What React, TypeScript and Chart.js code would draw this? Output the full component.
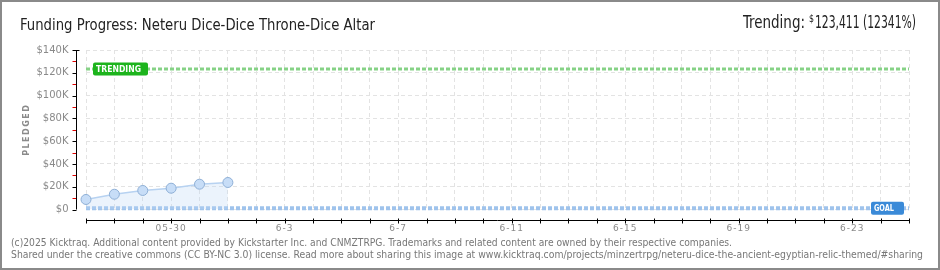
import { useEffect, useRef } from 'react';
import { Chart, registerables } from 'chart.js';

Chart.register(...registerables);

const TITLE = 'Funding Progress: Neteru Dice-Dice Throne-Dice Altar';
const TRENDING_LABEL = 'Trending:';
const TRENDING_CURRENCY = '$';
const TRENDING_AMOUNT = '123,411 (12341%)';
const FOOTER_1 = '(c)2025 Kicktraq. Additional content provided by Kickstarter Inc. and CNMZTRPG. Trademarks and related content are owned by their respective companies.';
const FOOTER_2 = 'Shared under the creative commons (CC BY-NC 3.0) license. Read more about sharing this image at www.kicktraq.com/projects/minzertrpg/neteru-dice-the-ancient-egyptian-relic-themed/#sharing';
const Y_TITLE = 'PLEDGED';

const dates = [
  '05-27', '05-28', '05-29', '05-30', '05-31', '06-01', '06-02', '06-03', '06-04', '06-05',
  '06-06', '06-07', '06-08', '06-09', '06-10', '06-11', '06-12', '06-13', '06-14', '06-15',
  '06-16', '06-17', '06-18', '06-19', '06-20', '06-21', '06-22', '06-23', '06-24', '06-25',
];
const xTickLabels = [
  '', '', '', '05-30', '', '', '', '6-3', '', '',
  '', '6-7', '', '', '', '6-11', '', '', '', '6-15',
  '', '', '', '6-19', '', '', '', '6-23', '', '',
];
const pledged = [8800, 13400, 16700, 18700, 22200, 23700];
const trendingValue = 123411;
const goalValue = 1000;
const yTicks = [0, 20000, 40000, 60000, 80000, 100000, 120000, 140000];
const yTickLabels = ['$0', '$20K', '$40K', '$60K', '$80K', '$100K', '$120K', '$140K'];
const yMinorTicks = [10000, 30000, 50000, 70000, 90000, 110000, 130000];

function fitText(ctx: CanvasRenderingContext2D, text: string, x: number, y: number, width: number, align: 'left' | 'right' = 'left') {
  const w = ctx.measureText(text).width;
  const s = width / w;
  ctx.save();
  ctx.translate(align === 'left' ? x : x - width, y);
  ctx.scale(s, 1);
  ctx.textAlign = 'left';
  ctx.fillText(text, 0, 0);
  ctx.restore();
}

function labelBox(ctx: CanvasRenderingContext2D, x: number, y: number, w: number, h: number, color: string, text: string, textW: number) {
  ctx.save();
  ctx.fillStyle = color;
  ctx.beginPath();
  ctx.roundRect(x, y, w, h, 2);
  ctx.fill();
  ctx.fillStyle = '#ffffff';
  ctx.font = 'bold 9px "DejaVu Sans"';
  (ctx as any).letterSpacing = '0px';
  ctx.textBaseline = 'middle';
  fitText(ctx, text, x + 3, y + h / 2 + 0.5, textW);
  ctx.restore();
}

const decoPlugin = {
  id: 'deco',
  afterDatasetsDraw(chart: any) {
    const { ctx, chartArea: a, scales } = chart;
    const y = scales.y;
    const ty = y.getPixelForValue(trendingValue);
    labelBox(ctx, a.left + 7, ty - 6.5, 55, 13, '#1db41d', 'TRENDING', 45);
    const gy = y.getPixelForValue(goalValue);
    labelBox(ctx, a.right - 38, gy - 6.5, 33, 13, '#3a8ad8', 'GOAL', 20);
  },
  afterDraw(chart: any) {
    const { ctx, chartArea: a, scales } = chart;
    const x = scales.x;
    const y = scales.y;
    ctx.save();

    // frame
    ctx.strokeStyle = '#8a8a8a';
    ctx.lineWidth = 2;
    ctx.strokeRect(1, 1, chart.width - 2, chart.height - 2);

    // y axis
    const axX = Math.round(a.left - 10) + 0.5;
    ctx.strokeStyle = '#000';
    ctx.lineWidth = 1;
    ctx.beginPath();
    ctx.moveTo(axX, y.getPixelForValue(140000));
    ctx.lineTo(axX, y.getPixelForValue(0));
    ctx.stroke();
    yTicks.forEach((v) => {
      const py = Math.round(y.getPixelForValue(v)) + 0.5;
      ctx.beginPath();
      ctx.moveTo(axX - 4, py);
      ctx.lineTo(v === 140000 ? axX + 3 : axX, py);
      ctx.stroke();
    });
    ctx.strokeStyle = '#e00000';
    yMinorTicks.forEach((v) => {
      const py = Math.round(y.getPixelForValue(v)) + 0.5;
      ctx.beginPath();
      ctx.moveTo(axX - 4, py);
      ctx.lineTo(axX - 0.5, py);
      ctx.stroke();
    });

    // y labels
    ctx.fillStyle = '#8a8a8a';
    ctx.font = '10px "DejaVu Sans"';
    ctx.textAlign = 'right';
    ctx.textBaseline = 'middle';
    yTicks.forEach((v, i) => {
      ctx.fillText(yTickLabels[i], axX - 8, y.getPixelForValue(v));
    });

    // x axis
    const axY = Math.round(a.bottom + 10) + 0.5;
    ctx.strokeStyle = '#000';
    ctx.beginPath();
    ctx.moveTo(x.getPixelForValue(0), axY);
    ctx.lineTo(x.getPixelForValue(dates.length - 1), axY);
    ctx.stroke();
    dates.forEach((_, i) => {
      const px = Math.round(x.getPixelForValue(i)) + 0.5;
      ctx.beginPath();
      ctx.moveTo(px, axY - 2);
      ctx.lineTo(px, axY + 3);
      ctx.stroke();
    });
    ctx.fillStyle = '#8a8a8a';
    ctx.font = '9px "DejaVu Sans"';
    (ctx as any).letterSpacing = '1px';
    ctx.textAlign = 'center';
    ctx.textBaseline = 'middle';
    xTickLabels.forEach((t, i) => {
      if (t) ctx.fillText(t, x.getPixelForValue(i), axY + 8);
    });

    // y title
    ctx.save();
    ctx.translate(27, (a.top + a.bottom) / 2);
    ctx.rotate(-Math.PI / 2);
    ctx.font = 'bold 8px "DejaVu Sans"';
    (ctx as any).letterSpacing = '1.5px';
    ctx.fillStyle = '#8a8a8a';
    ctx.textAlign = 'center';
    ctx.textBaseline = 'middle';
    ctx.fillText(Y_TITLE, 0, 0);
    ctx.restore();
    (ctx as any).letterSpacing = '0px';

    // title
    ctx.fillStyle = '#222';
    ctx.textBaseline = 'alphabetic';
    ctx.font = '15px "DejaVu Sans Condensed"';
    fitText(ctx, TITLE, 20, 30, 355);

    // trending text
    ctx.font = '17px "DejaVu Sans Condensed"';
    fitText(ctx, TRENDING_LABEL, 743, 28, 62);
    fitText(ctx, TRENDING_AMOUNT, 916, 28, 101, 'right');
    ctx.font = '10px "DejaVu Sans Condensed"';
    fitText(ctx, TRENDING_CURRENCY, 809, 22, 5);

    // footer
    ctx.fillStyle = '#777';
    ctx.font = '10px "DejaVu Sans"';
    fitText(ctx, FOOTER_1, 11, 246, 721);
    fitText(ctx, FOOTER_2, 11, 258, 912);

    ctx.restore();
  },
};

export default function App() {
  const ref = useRef<HTMLCanvasElement | null>(null);
  useEffect(() => {
    if (!ref.current) return;
    const chart = new Chart(ref.current, {
      type: 'line',
      data: {
        labels: dates,
        datasets: [
          {
            label: 'Pledged',
            data: pledged,
            borderColor: '#b7d2f1',
            borderWidth: 1.5,
            backgroundColor: 'rgba(190,215,245,0.3)',
            fill: 'origin',
            pointRadius: 5,
            pointBackgroundColor: '#c7ddf7',
            pointBorderColor: '#8eafd6',
            pointBorderWidth: 1,
            tension: 0,
            clip: false as any,
          },
          {
            label: 'Trending',
            data: dates.map(() => trendingValue),
            borderColor: '#86d286',
            borderWidth: 3,
            borderDash: [4, 2],
            pointRadius: 0,
            fill: false,
            clip: false as any,
          },
          {
            label: 'Goal',
            data: dates.map(() => goalValue),
            borderColor: '#9fc3ec',
            borderWidth: 4,
            borderDash: [4, 2],
            pointRadius: 0,
            fill: false,
            clip: false as any,
          },
        ],
      },
      options: {
        responsive: false,
        animation: false,
        layout: { padding: { left: 86, right: 31, top: 50, bottom: 60.5 } },
        plugins: {
          legend: { display: false },
          tooltip: { enabled: false },
          title: { display: false },
        },
        scales: {
          x: {
            type: 'category',
            offset: false,
            ticks: { display: false, autoSkip: false },
            grid: { color: '#e3e3e3', drawTicks: false, lineWidth: 1 },
            border: { display: false, dash: [4, 3] },
            afterFit: (s: any) => { s.height = 0; },
          },
          y: {
            min: 0,
            max: 140000,
            ticks: { display: false, stepSize: 20000 },
            grid: { color: '#e3e3e3', drawTicks: false, lineWidth: 1 },
            border: { display: false, dash: [4, 3] },
            afterFit: (s: any) => { s.width = 0; },
          },
        },
      },
      plugins: [decoPlugin],
    });
    return () => chart.destroy();
  }, []);
  return (
    <div style={{ position: 'absolute', left: 0, top: 0, width: 940, height: 270, background: '#fff' }}>
      <canvas ref={ref} width={940} height={270} style={{ display: 'block', width: 940, height: 270 }} />
    </div>
  );
}
